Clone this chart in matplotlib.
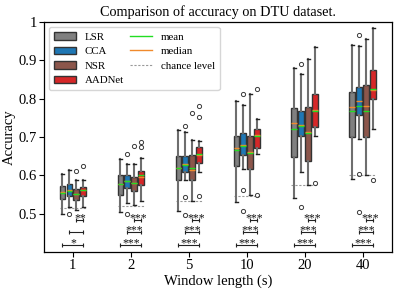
import matplotlib
matplotlib.use("Agg")
import matplotlib.pyplot as plt
from matplotlib.patches import Patch
from matplotlib.lines import Line2D

plt.rcParams['font.family'] = ['Liberation Serif', 'DejaVu Serif']
plt.rcParams['mathtext.fontset'] = 'stix'

windows = ['1', '2', '5', '10', '20', '40']
methods = ['LSR', 'CCA', 'NSR', 'AADNet']
colors = ['#808080', '#1f77b4', '#8c564b', '#d62728']

q1 = {
    'LSR':    [0.538, 0.548, 0.589, 0.623, 0.647, 0.700],
    'CCA':    [0.546, 0.567, 0.608, 0.654, 0.703, 0.758],
    'NSR':    [0.535, 0.559, 0.587, 0.617, 0.636, 0.700],
    'AADNet': [0.546, 0.575, 0.632, 0.672, 0.726, 0.800],
}
q3 = {
    'LSR':    [0.571, 0.602, 0.650, 0.702, 0.776, 0.816],
    'CCA':    [0.577, 0.602, 0.650, 0.711, 0.768, 0.830],
    'NSR':    [0.565, 0.595, 0.654, 0.703, 0.779, 0.836],
    'AADNet': [0.569, 0.612, 0.674, 0.720, 0.813, 0.874],
}
medians = {
    'LSR':    [0.556, 0.578, 0.620, 0.671, 0.737, 0.777],
    'CCA':    [0.561, 0.586, 0.630, 0.678, 0.731, 0.793],
    'NSR':    [0.552, 0.581, 0.615, 0.660, 0.714, 0.780],
    'AADNet': [0.562, 0.595, 0.652, 0.704, 0.770, 0.822],
}
means = {
    'LSR':    [0.555, 0.578, 0.620, 0.665, 0.722, 0.767],
    'CCA':    [0.560, 0.585, 0.628, 0.676, 0.728, 0.782],
    'NSR':    [0.552, 0.581, 0.620, 0.659, 0.711, 0.768],
    'AADNet': [0.561, 0.600, 0.655, 0.702, 0.768, 0.826],
}
whislo = {
    'LSR':    [0.499, 0.503, 0.506, 0.530, 0.542, 0.591],
    'CCA':    [0.517, 0.529, 0.589, 0.617, 0.608, 0.694],
    'NSR':    [0.510, 0.523, 0.534, 0.549, 0.575, 0.602],
    'AADNet': [0.517, 0.532, 0.608, 0.655, 0.702, 0.722],
}
whishi = {
    'LSR':    [0.603, 0.643, 0.717, 0.794, 0.880, 0.941],
    'CCA':    [0.614, 0.630, 0.713, 0.784, 0.863, 0.937],
    'NSR':    [0.589, 0.629, 0.693, 0.813, 0.904, 0.955],
    'AADNet': [0.587, 0.645, 0.689, 0.746, 0.935, 0.985],
}
fliers = {
    'LSR':    [[], [], [], [], [], []],
    'CCA':    [[0.500], [0.656, 0.498], [0.728, 0.543, 0.497], [0.813, 0.561, 0.508], [0.891, 0.517], [0.965, 0.604, 0.504]],
    'NSR':    [[0.611], [0.677], [0.763], [], [], []],
    'AADNet': [[0.624], [0.688, 0.675], [0.780, 0.752, 0.545], [0.826, 0.549], [0.580], [0.589]],
}
chance = [0.515, 0.521, 0.533, 0.547, 0.575, 0.600]

# significance (AADNet vs NSR, vs CCA, vs LSR)
sig_nsr = ['**', '***', '***', '***', '***', '***']
sig_cca = ['', '***', '***', '***', '***', '***']
sig_lsr = ['*', '***', '***', '***', '***', '***']

fig = plt.figure(figsize=(3.99, 2.92), dpi=100)
ax = fig.add_axes([0.110, 0.137, 0.872, 0.788])

offsets = [-0.18, -0.06, 0.06, 0.18]
bw = 0.1
for mi, m in enumerate(methods):
    stats = []
    pos = []
    for g in range(len(windows)):
        stats.append(dict(med=medians[m][g], q1=q1[m][g], q3=q3[m][g],
                          whislo=whislo[m][g], whishi=whishi[m][g],
                          mean=means[m][g], fliers=fliers[m][g]))
        pos.append(g + offsets[mi])
    ax.bxp(stats, positions=pos, widths=bw, patch_artist=True,
           showmeans=True, meanline=True,
           boxprops=dict(facecolor=colors[mi], edgecolor='#333333', linewidth=1.0),
           whiskerprops=dict(color='#6e6e6e', linewidth=1.5),
           capprops=dict(color='#222222', linewidth=1.0),
           capwidths=0.05,
           medianprops=dict(color='#f08a2c', linewidth=1.0),
           meanprops=dict(color='#22dd22', linewidth=1.0, linestyle='-'),
           flierprops=dict(marker='o', markersize=3, markerfacecolor='none',
                           markeredgecolor='#3a3a3a', markeredgewidth=0.7),
           manage_ticks=False, zorder=3)

for g in range(len(windows)):
    ax.hlines(chance[g], g - 0.23, g + 0.23, colors='#999999',
              linestyles=(0, (2, 1.5)), linewidth=0.8, zorder=2)

rows = [(0.484, 2, sig_nsr), (0.452, 1, sig_cca), (0.419, 0, sig_lsr)]
for yv, mi, labels in rows:
    for g in range(len(windows)):
        x0 = g + offsets[mi]
        x1 = g + offsets[3]
        ax.plot([x0, x1], [yv, yv], color='#222222', linewidth=0.8,
                marker='|', markersize=3, markeredgewidth=0.8, zorder=3)
        if labels[g]:
            ax.text((x0 + x1) / 2, yv - 0.012, labels[g], ha='center',
                    va='bottom', fontsize=8.5, color='#111111')

ax.set_xlim(-0.5, len(windows) - 0.5)
ax.set_ylim(0.4, 1.0)
ax.set_xticks(range(len(windows)))
ax.set_xticklabels(windows, fontsize=10.5)
ax.set_yticks([0.5, 0.6, 0.7, 0.8, 0.9, 1.0])
ax.set_yticklabels(['0.5', '0.6', '0.7', '0.8', '0.9', '1'], fontsize=10.5)
ax.tick_params(axis='both', length=3.5, width=0.8, pad=1.5)
ax.set_xlabel('Window length (s)', fontsize=10.5, labelpad=2)
ax.set_ylabel('Accuracy', fontsize=10.5, labelpad=2)
ax.set_title('Comparison of accuracy on DTU dataset.', fontsize=10.3, pad=4)
for s in ax.spines.values():
    s.set_linewidth(0.9)

handles = [Patch(facecolor=c, edgecolor='#333333', label=m) for m, c in zip(methods, colors)]
handles += [Line2D([0], [0], color='#22dd22', lw=1, label='mean'),
            Line2D([0], [0], color='#f08a2c', lw=1, label='median'),
            Line2D([0], [0], color='#999999', lw=0.8, ls=(0, (2, 1.5)), label='chance level')]
ax.legend(handles=handles, loc='upper left', ncol=2, fontsize=7.8,
          frameon=True, fancybox=True, framealpha=0.8, edgecolor='#cccccc',
          handlelength=2.0, handletextpad=0.8, columnspacing=0.6,
          borderpad=0.45, labelspacing=0.45, borderaxespad=0.5)

fig.savefig('out.png', dpi=100)
